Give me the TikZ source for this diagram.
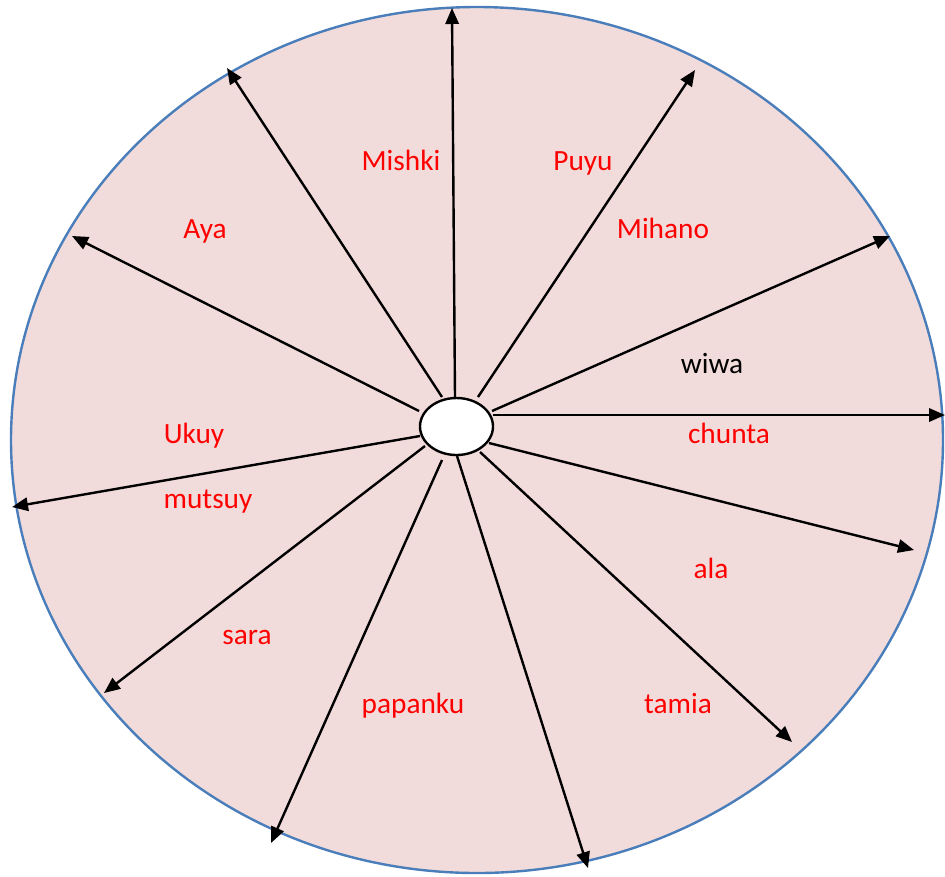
\documentclass[tikz,border=0pt]{standalone}
\usepackage{fontspec}
\setmainfont{Carlito}
\usetikzlibrary{arrows.meta,shapes.geometric}
\definecolor{wheelfill}{HTML}{F2DCDB}
\definecolor{wheelline}{HTML}{4A7EBB}
\definecolor{lblred}{HTML}{FF0000}
\begin{document}
\begin{tikzpicture}[x=0.75pt,y=-0.75pt,
  spoke/.style={line width=1.8pt,-{Triangle[length=12pt,width=10pt]}},
  lbl/.style={anchor=base,inner sep=0pt,text=lblred,font=\fontsize{22}{24}\selectfont},
  blk/.style={lbl,text=black}]
\useasboundingbox (0,0) rectangle (945,876);
\node[ellipse,draw=wheelline,line width=1.8pt,fill=wheelfill,inner sep=0pt,
  minimum width=699pt,minimum height=649.5pt] (wheel) at (477,440) {};
\node[ellipse,draw=black,line width=1.8pt,fill=white,inner sep=0pt,
  minimum width=54.75pt,minimum height=42.75pt] (hub) at (456.5,426.5) {};
% start points
\coordinate (s1) at (455,398);
\coordinate (s2) at (442,397);
\coordinate (s3) at (419,411);
\coordinate (s4) at (420,436);
\coordinate (s5) at (425,446);
\coordinate (s6) at (442,460);
\coordinate (s7) at (457,456);
\coordinate (s8) at (480,452);
\coordinate (s9) at (489,443);
\coordinate (s10) at (493,415);
\coordinate (s11) at (492,411);
\coordinate (s12) at (478,397);
% end points
\coordinate (e1) at (452,8);
\coordinate (e2) at (227,68);
\coordinate (e3) at (72,236);
\coordinate (e4) at (12,507);
\coordinate (e5) at (104,693);
\coordinate (e6) at (271,843);
\coordinate (e7) at (588,868);
\coordinate (e8) at (792,742);
\coordinate (e9) at (914,550);
\coordinate (e10) at (945,415);
\coordinate (e11) at (890,236);
\coordinate (e12) at (695,70);
\foreach \i in {1,...,12} \draw[spoke] (s\i) -- (e\i);
% labels
\node[lbl] (mishki) at (401,170) {Mishki};
\node[lbl] (puyu) at (583,170) {Puyu};
\node[lbl] (aya) at (205,238) {Aya};
\node[lbl] (mihano) at (663,238) {Mihano};
\node[blk] (wiwa) at (712,373) {wiwa};
\node[lbl] (chunta) at (729,443) {chunta};
\node[lbl] (ukuy) at (194,443) {Ukuy};
\node[lbl] (mutsuy) at (208,508) {mutsuy};
\node[lbl] (ala) at (711,578) {ala};
\node[lbl] (sara) at (247,644) {sara};
\node[lbl] (papanku) at (413,713) {papanku};
\node[lbl] (tamia) at (678,713) {tamia};
\end{tikzpicture}
\end{document}
